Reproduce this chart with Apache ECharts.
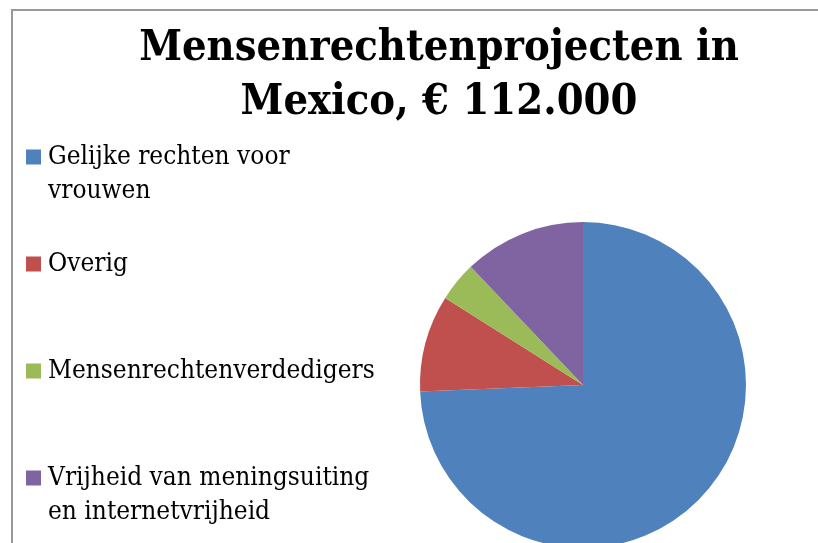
<!DOCTYPE html>
<html>
<head>
<meta charset="utf-8">
<title>Mensenrechtenprojecten in Mexico</title>
<script src="https://cdn.jsdelivr.net/npm/echarts@6/dist/echarts.min.js"></script>
<style>
  html, body { margin: 0; padding: 0; background: #fff; }
  #chart { width: 818px; height: 543px; }
</style>
</head>
<body>
<div id="chart"></div>
<script>
  // projecten (bedragen in euro, totaal 112.000)
  var categories = [
    "Gelijke rechten voor vrouwen",
    "Overig",
    "Mensenrechtenverdedigers",
    "Vrijheid van meningsuiting en internetvrijheid"
  ];
  var amounts = [83300, 10750, 4400, 13550];
  // legend text as it wraps in the original
  var legendLines = [
    ["Gelijke rechten voor", "vrouwen"],
    ["Overig"],
    ["Mensenrechtenverdedigers"],
    ["Vrijheid van meningsuiting", "en internetvrijheid"]
  ];
  var colors = ["#4F81BD", "#C0504D", "#9BBB59", "#8064A2"];

  var serif = "'DejaVu Serif Condensed', 'DejaVu Serif', serif";
  var LH = 34;

  var chart = echarts.init(document.getElementById("chart"), null, { renderer: "canvas" });

  chart.setOption({
    animation: false,
    color: colors,
    title: {
      text: "Mensenrechtenprojecten in\nMexico, € 112.000",
      left: 434,
      top: 17,
      textAlign: "center",
      textStyle: {
        fontFamily: serif,
        fontWeight: "bold",
        fontSize: 43,
        lineHeight: 54,
        color: "#000"
      }
    },
    legend: {
      orient: "vertical",
      left: 21,
      top: 101,
      itemWidth: 15,
      itemHeight: 15,
      itemGap: 5,
      icon: "rect",
      selectedMode: false,
      data: categories,
      // three text rows per item, the first text row sits level with the icon
      formatter: function (name) {
        var lines = legendLines[categories.indexOf(name)];
        return [" ", lines[0], lines[1] || " "].join("\n");
      },
      textStyle: {
        fontFamily: serif,
        fontSize: 26,
        lineHeight: LH,
        padding: [0, 0, 0, 2],
        color: "#000"
      }
    },
    graphic: [
      {
        type: "rect",
        silent: true,
        shape: { x: 12, y: 10, width: 900, height: 700 },
        style: { fill: "none", stroke: "#999999", lineWidth: 2 }
      }
    ],
    series: [
      {
        type: "pie",
        center: [583, 385],
        radius: 163,
        startAngle: 90,
        clockwise: true,
        label: { show: false },
        labelLine: { show: false },
        emphasis: { disabled: true },
        itemStyle: { borderWidth: 0 },
        data: categories.map(function (name, i) {
          return { name: name, value: amounts[i] };
        })
      }
    ]
  });
</script>
</body>
</html>
